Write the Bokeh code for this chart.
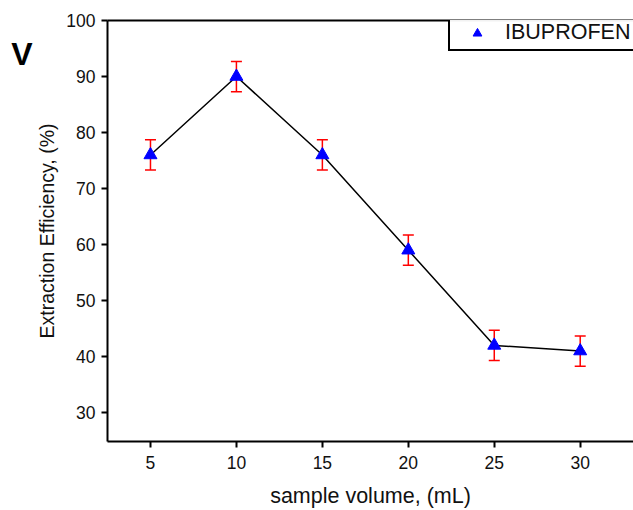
from bokeh.plotting import figure
from bokeh.models import Range1d, LinearAxis, FixedTicker, Whisker, ColumnDataSource, Legend, LegendItem, TeeHead
from bokeh.embed import file_html
from bokeh.resources import INLINE

volume = [5, 10, 15, 20, 25, 30]
efficiency = [76, 90, 76, 59, 42, 41]
error = [2.7, 2.7, 2.7, 2.7, 2.7, 2.7]
x_ticks = [5, 10, 15, 20, 25, 30]
y_ticks = [30, 40, 50, 60, 70, 80, 90, 100]
panel_letter = "V"

src = ColumnDataSource(dict(
    x=volume, y=efficiency,
    lo=[v - e for v, e in zip(efficiency, error)],
    hi=[v + e for v, e in zip(efficiency, error)],
))

FONT = "Liberation Sans"
p = figure(width=633, height=510, output_backend="svg", toolbar_location=None,
           x_range=Range1d(2.5, 33.1), y_range=Range1d(24.85, 100),
           min_border_left=107, min_border_right=0, min_border_top=20, min_border_bottom=67)
p.outline_line_color = None
p.grid.visible = False
p.background_fill_color = "white"

for ax in (p.xaxis[0], p.yaxis[0]):
    ax.axis_line_width = 2
    ax.major_tick_line_width = 2
    ax.major_tick_in = 0
    ax.major_tick_out = 6
    ax.minor_tick_line_color = None
    ax.major_label_text_font = FONT
    ax.major_label_text_font_size = "17.5px"
    ax.major_label_text_color = "#111111"
    ax.axis_label_text_font = FONT
    ax.axis_label_text_font_style = "normal"
    ax.axis_label_text_color = "#111111"

p.xaxis.axis_label_text_font_size = "21.5px"
p.yaxis.axis_label_text_font_size = "19.5px"
p.xaxis.ticker = FixedTicker(ticks=x_ticks)
p.yaxis.ticker = FixedTicker(ticks=y_ticks)
p.xaxis.axis_label = "sample volume, (mL)"
p.yaxis.axis_label = "Extraction Efficiency, (%)"
p.xaxis.major_label_standoff = 8
p.yaxis.major_label_standoff = 6
p.xaxis.axis_label_standoff = 12
p.yaxis.axis_label_standoff = 5

top = LinearAxis(ticker=FixedTicker(ticks=[]), major_label_text_font_size="0px",
                 axis_line_width=2, major_tick_line_color=None, minor_tick_line_color=None)
p.add_layout(top, "above")

# panel letter as the single tick label of an invisible outer axis
letter_axis = LinearAxis(ticker=FixedTicker(ticks=[94.1]), major_label_overrides={94.1: panel_letter},
                         axis_line_color=None, major_tick_line_color=None, minor_tick_line_color=None,
                         major_tick_in=0, major_tick_out=0, minor_tick_in=0, minor_tick_out=0,
                         major_label_text_font=FONT, major_label_text_font_size="32px",
                         major_label_text_font_style="bold", major_label_text_color="black",
                         major_label_standoff=1)
p.add_layout(letter_axis, "left")

p.line("x", "y", source=src, line_color="black", line_width=1.5)
w = Whisker(base="x", lower="lo", upper="hi", source=src, line_color="red", line_width=1.5,
            upper_head=TeeHead(size=11, line_color="red", line_width=1.5),
            lower_head=TeeHead(size=11, line_color="red", line_width=1.5))
p.add_layout(w)
r = p.scatter("x", "y", source=src, marker="triangle", size=13, fill_color="#0000ff", line_color="#0000ff")

leg = Legend(items=[LegendItem(label="IBUPROFEN", renderers=[r])], location=(341, 390),
             border_line_color="black", border_line_width=2, border_line_alpha=1.0,
             label_text_font=FONT, label_text_font_size="21.5px", label_text_color="#111111",
             padding=4, margin=0, glyph_width=46, glyph_height=22, label_standoff=5,
             spacing=0)
p.add_layout(leg)

open("out.html", "w").write(file_html(p, INLINE))
